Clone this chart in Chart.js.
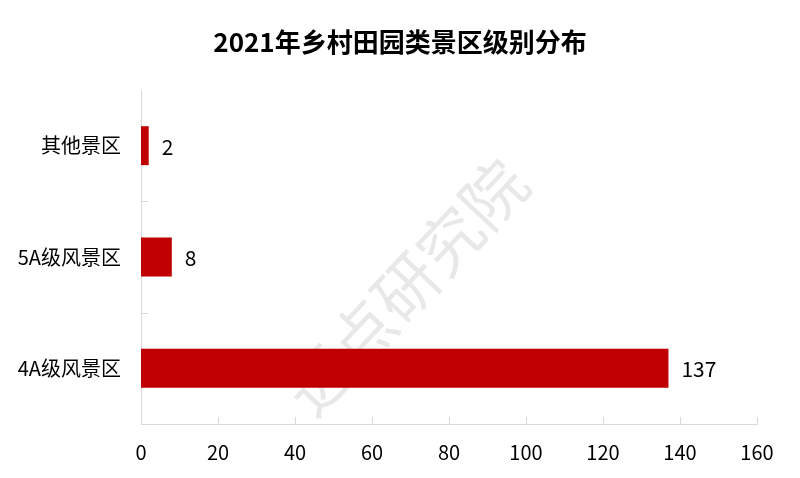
<!DOCTYPE html>
<html>
<head>
<meta charset="utf-8">
<script src="https://cdn.jsdelivr.net/npm/chart.js@4"></script>
<style>
  html, body { margin: 0; padding: 0; background: #fff; }
  #wrap { width: 800px; height: 478px; }
</style>
</head>
<body>
<div id="wrap"><canvas id="levelChart" width="800" height="478"></canvas></div>
<script>
// chart data
const chartTitle = '2021年乡村田园类景区级别分布';
const categories = ['其他景区', '5A级风景区', '4A级风景区'];
const counts = [2, 8, 137];
const xTicks = [0, 20, 40, 60, 80, 100, 120, 140, 160];

const fontFamily = '"Noto Sans CJK SC", "Noto Sans", sans-serif';
const axisColor = '#d9d9d9';

// title centred on the whole canvas (the built-in one centres inside the padding)
const pageTitle = {
  id: 'pageTitle',
  afterDraw(chart) {
    const ctx = chart.ctx;
    ctx.save();
    ctx.font = 'bold 26px ' + fontFamily;
    ctx.fillStyle = '#000';
    ctx.textAlign = 'center';
    ctx.textBaseline = 'middle';
    ctx.fillText(chartTitle, chart.width / 2, 42);
    ctx.restore();
  }
};

// watermark behind the bars
const watermark = {
  id: 'watermark',
  beforeDatasetsDraw(chart) {
    const ctx = chart.ctx;
    const area = chart.chartArea;
    ctx.save();
    ctx.translate(area.left + (area.right - area.left) * 0.43, area.top + (area.bottom - area.top) * 0.59);
    ctx.rotate(-Math.PI * 0.26);
    ctx.font = '64px ' + fontFamily;
    ctx.fillStyle = 'rgba(0,0,0,0.09)';
    ctx.textAlign = 'center';
    ctx.textBaseline = 'middle';
    ctx.fillText('迈点研究院', 0, 0);
    ctx.restore();
  }
};

// tick marks pointing into the plot, and value labels at bar ends
const innerTicks = {
  id: 'innerTicks',
  afterDatasetsDraw(chart) {
    const ctx = chart.ctx;
    const x = chart.scales.x;
    const y = chart.scales.y;
    ctx.save();
    ctx.strokeStyle = axisColor;
    ctx.lineWidth = 1;
    ctx.beginPath();
    xTicks.forEach(v => {
      const px = Math.round(x.getPixelForValue(v)) + 0.5;
      ctx.moveTo(px, y.bottom);
      ctx.lineTo(px, y.bottom - 7);
    });
    for (let i = 0; i < categories.length - 1; i++) {
      const py = Math.round((y.getPixelForValue(i) + y.getPixelForValue(i + 1)) / 2) + 0.5;
      ctx.moveTo(x.left, py);
      ctx.lineTo(x.left + 7, py);
    }
    ctx.stroke();

    ctx.fillStyle = '#000';
    ctx.font = '21px ' + fontFamily;
    ctx.textAlign = 'left';
    ctx.textBaseline = 'middle';
    chart.getDatasetMeta(0).data.forEach((bar, i) => {
      ctx.fillText(String(counts[i]), bar.x + 13, bar.y + 1);
    });
    ctx.restore();
  }
};

new Chart(document.getElementById('levelChart'), {
  type: 'bar',
  data: {
    labels: categories,
    datasets: [{
      data: counts,
      backgroundColor: '#c00000',
      borderWidth: 0,
      categoryPercentage: 1,
      barPercentage: 0.35
    }]
  },
  plugins: [pageTitle, watermark, innerTicks],
  options: {
    indexAxis: 'y',
    responsive: false,
    animation: false,
    layout: { padding: { left: 0, right: 43, top: 90, bottom: 0 } },
    plugins: {
      legend: { display: false },
      tooltip: { enabled: false },
      title: { display: false }
    },
    scales: {
      x: {
        min: 0,
        max: 160,
        afterBuildTicks(scale) {
          scale.ticks = xTicks.map(v => ({ value: v }));
        },
        afterFit(scale) { scale.height = 54; },
        grid: { display: false, drawTicks: false },
        border: { display: true, color: axisColor, width: 1 },
        ticks: {
          color: '#000',
          padding: 16,
          font: { family: fontFamily, size: 20 }
        }
      },
      y: {
        afterFit(scale) { scale.width = 141; },
        grid: { display: false, drawTicks: false },
        border: { display: true, color: axisColor, width: 1 },
        ticks: {
          color: '#000',
          padding: 20,
          font: { family: fontFamily, size: 20 }
        }
      }
    }
  }
});
</script>
</body>
</html>
